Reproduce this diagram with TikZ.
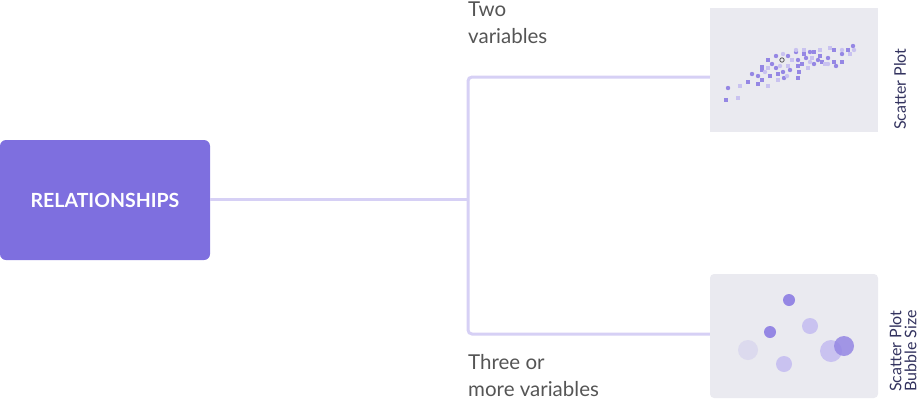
\documentclass[tikz,border=0pt]{standalone}
\usepackage{fontspec}
\setmainfont{Lato}
\definecolor{relpurple}{HTML}{7E6FDF}
\definecolor{branchcol}{HTML}{D6D0F5}
\definecolor{panelgray}{HTML}{EAEAF0}
\definecolor{darkdot}{HTML}{9587E4}
\definecolor{lightdot}{HTML}{C9C2F0}
\definecolor{paledot}{HTML}{DCDAEE}
\definecolor{labelgray}{HTML}{555555}
\definecolor{navytext}{HTML}{33335F}
\tikzset{
  relbox/.style={fill=relpurple, rounded corners=6pt, minimum width=210pt, minimum height=120pt,
    inner sep=0pt, text=white, font=\bfseries\fontsize{19.5}{22}\selectfont},
  panel/.style={fill=panelgray, minimum width=168pt, minimum height=124pt, inner sep=0pt},
  branchline/.style={draw=branchcol, line width=3pt, rounded corners=4pt},
  caselabel/.style={anchor=north west, inner sep=0pt, align=left, text=labelgray,
    font=\fontsize{20.5}{27}\selectfont},
  charttitle/.style={rotate=90, anchor=west, inner sep=0pt, align=left, text=navytext,
    font=\fontsize{16}{15}\selectfont}
}
\begin{document}
\begin{tikzpicture}[x=1pt,y=-1pt]
\useasboundingbox (0,0) rectangle (920,400);
\node[relbox] (rel) at (105,200) {RELATIONSHIPS};
\node[panel] (scatter) at (794,70) {};
\node[panel, rounded corners=4pt] (bubble) at (794,336) {};
\coordinate (split) at (468,199);
% connectors
\draw[branchline] (rel.east |- split) -- (split);
\draw[branchline] (split) |- ([yshift=-7pt]scatter.west);
\draw[branchline] (split) |- ([yshift=2pt]bubble.west);
% labels
\node[caselabel] (two) at (468,2) {Two\\variables};
\node[caselabel] (three) at (468,354) {Three or\\more variables};
\node[charttitle] (scattertitle) at (900,130) {Scatter Plot};
\node[charttitle] (bubbletitle) at (903,392) {Scatter Plot\\Bubble Size};
% scatter points
\foreach \x/\y in {726/100,748/82,758/84,762/80,770/76,778/74,762/67,762/70,768/60,798/78,
  799/72,798/66,804/54,814/52,820/56,822/62,834/62,842/62,834/50,848/50,802/64}
  \fill[darkdot] (\x-2,\y-2) rectangle ++(4,4);
\foreach \x/\y in {738/98,740/86,768/86,768/68,778/80,788/66,792/60,808/68,812/58,820/50,
  830/48,850/54,804/50,825/64}
  \fill[lightdot] (\x-2,\y-2) rectangle ++(4,4);
\foreach \x/\y in {728/88,752/74,758/76,776/68,772/64,776/56,788/56,783/72,790/70,784/78,
  796/52,798/60,806/58,814/64,818/60,828/58,836/66,842/54,853/46,810/52}
  \fill[darkdot] (\x,\y) circle (2.2);
\foreach \x/\y in {783/54,787/76,796/50,810/62,828/64,842/50,854/50,765/72,780/66}
  \fill[lightdot] (\x,\y) circle (2.2);
\draw[gray!70!black, line width=0.8pt] (782,60) circle (2.2);
% bubbles
\fill[paledot] (748,350) circle (10);
\fill[lightdot] (784,364) circle (8);
\fill[lightdot] (810,326) circle (8);
\fill[lightdot] (831,351) circle (11);
\fill[darkdot, opacity=0.85] (844,346) circle (10);
\fill[darkdot] (789,300) circle (6);
\fill[darkdot] (770,332) circle (6);
\end{tikzpicture}
\end{document}
